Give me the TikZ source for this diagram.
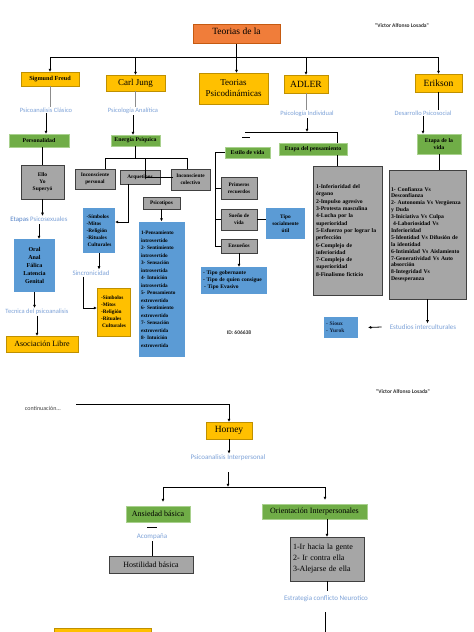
\documentclass[tikz,border=0pt]{standalone}
\usepackage{fontspec}
\setmainfont{Liberation Serif}
\newfontfamily\subfont{Carlito}
\usetikzlibrary{arrows.meta}
\definecolor{ylw}{HTML}{FFC000}
\definecolor{ylwb}{HTML}{BF9000}
\definecolor{org}{HTML}{F07D3A}
\definecolor{orgb}{HTML}{C55A11}
\definecolor{grn}{HTML}{70AD47}
\definecolor{grnb}{HTML}{A9D18E}
\definecolor{gry}{HTML}{A6A6A6}
\definecolor{gryb}{HTML}{404040}
\definecolor{blu}{HTML}{5B9BD5}
\definecolor{subc}{HTML}{7DA2D8}
\definecolor{subd}{HTML}{4F7FC6}
\definecolor{lng}{HTML}{8C8C8C}
\definecolor{navy}{HTML}{10203A}
\newcommand\myfs[2]{\fontsize{#1}{#2}\selectfont}
\begin{document}
\begin{tikzpicture}[x=1pt,y=-1pt,
  sz/.style 2 args={minimum width=#1pt, minimum height=#2pt},
  base/.style={inner sep=1pt, outer sep=0pt, align=center},
  ybox/.style={base, fill=ylw, draw=ylwb, line width=0.7pt},
  obox/.style={base, fill=org, draw=orgb, line width=0.7pt},
  gbox/.style={base, fill=grn, draw=grnb, line width=0.7pt, font=\bfseries\myfs{5.8}{7}},
  graybox/.style={base, fill=gry, draw=gryb, line width=1pt, font=\bfseries\myfs{5.3}{7}},
  bbox/.style={base, fill=blu, font=\bfseries\myfs{5.3}{7}},
  subt/.style={inner sep=1pt, text=subc, font=\subfont\myfs{6.5}{8}},
  authf/.style={inner sep=1pt, text=black!80, font=\subfont\bfseries\myfs{5.5}{7}},
  ln/.style={line width=0.8pt, black},
  lnlight/.style={line width=0.8pt, lng},
  arr/.style={ln, -{Latex[length=3.2pt,width=3pt]}}
]
\useasboundingbox (0,0) rectangle (474,632);
\fill[white] (0,0) rectangle (474,632);

% ---------- top ----------
\node[obox, sz={87}{19}, font=\myfs{9.5}{11}, text depth=6pt] (title) at (236.5,34) {Teorias de la};
\node[authf] (auth1) at (402,26) {"Victor Alfonso Losada"};

\node[ybox, sz={58}{14}, font=\bfseries\myfs{6.2}{8}] (freud) at (50,79) {Sigmund Freud};
\node[ybox, sz={59}{16}, font=\myfs{9}{11}] (jung) at (135.5,83) {Carl Jung};
\node[ybox, sz={69}{31}, font=\myfs{9}{11}] (tp) at (233.5,88.5) {Teorias\\Psicodinámicas};
\node[ybox, sz={44}{18}, font=\myfs{9.5}{11}] (adler) at (306,84) {ADLER};
\node[ybox, sz={47}{18}, font=\myfs{9.5}{11}] (erik) at (438.5,83) {Erikson};

\node[subt] (fsub) at (46,110) {Psicoanalisis Clásico};
\node[subt] (jsub) at (133,111) {Psicología Analítica};
\node[subt] (asub) at (307,114) {Psicología Individual};
\node[subt] (esub) at (423,113) {Desarrollo Psicosocial};

% ---------- green ----------
\node[gbox, sz={60}{13}] (pers) at (39,140.5) {Personalidad};
\node[gbox, sz={49}{11}] (ep) at (135.5,140.5) {Energía Psíquica};
\node[gbox, sz={45}{11}] (estilo) at (247.5,152.5) {Estilo de vida};
\node[gbox, sz={68}{12}] (etp) at (313,149) {Etapa del pensamiento};
\node[gbox, sz={44}{20}] (etv) at (439,144) {Etapa de la\\vida};

% ---------- Freud ----------
\node[graybox, sz={43}{34}, font=\bfseries\myfs{5.5}{7}] (ello) at (42.5,182) {Ello\\Yo\\Superyó};
\node[subt, font=\subfont\myfs{6.8}{8}] (etap) at (39,220) {\textcolor{subd}{Etapas} Psicosexuales};
\node[bbox, sz={41}{53}, font=\bfseries\myfs{6}{8.2}] (oral) at (34.5,265.5) {Oral\\Anal\\Fálica\\Latencia\\Genital};
\node[subt] (tec) at (37,312) {Tecnica del psicoanalisis};
\node[ybox, sz={72}{16}, font=\myfs{8}{9}] (asoc) at (42,344) {Asociación Libre};

% ---------- Jung ----------
\node[graybox, sz={40}{20}] (incp) at (95,179) {Inconsciente\\personal};
\node[graybox, sz={40}{14}] (arq) at (140,177) {Arquetipos};
\node[graybox, sz={39}{21}] (incc) at (190.5,179.5) {Inconsciente\\colectivo};
\node[graybox, sz={37}{12}] (psico) at (161.5,203) {Psicotipos};
\node[bbox, sz={32}{45}, align=left] (sym1) at (99,230.5) {-Símbolos\\-Mitos\\-Religión\\-Rituales\\\hspace*{1pt}Culturales};
\node[subt, font=\subfont\myfs{6.8}{8}] (sinc) at (91,273) {Sincronicidad};
\node[ybox, sz={33}{48}, font=\bfseries\myfs{5.3}{7}, align=left] (sym2) at (113.5,312) {-Símbolos\\-Mitos\\-Religión\\-Rituales\\\hspace*{1pt}Culturales};
\node[bbox, sz={46}{135}, text width=42pt, align=left, font=\bfseries\myfs{5.2}{7.5}] (big) at (162,289)
 {1-Pensamiento\\introvertido\\2- Sentimiento\\introvertido\\3- Sensación\\introvertida\\4- Intuición\\introvertida\\5- Pensamiento\\extrovertido\\6- Sentimiento\\extrovertido\\7- Sensación\\extrovertida\\8- Intuición\\extrovertida\\[2.5pt]};

% ---------- Adler ----------
\node[graybox, sz={36}{22}] (prim) at (239,188) {Primeros\\recuerdos};
\node[graybox, sz={36}{21}] (sueno) at (239,219.5) {Sueño de\\vida};
\node[graybox, sz={36}{14}] (ensu) at (239,246) {Ensueños};
\node[bbox, sz={39}{31}] (tsu) at (285.5,223.5) {Tipo\\socialmente\\útil};
\node[bbox, sz={66}{27}, text width=62pt, align=left, font=\bfseries\myfs{5.5}{7}] (tipos) at (234,280.5)
 {- Tipo gobernante\\- Tipo de quien consigue\\\hspace*{1pt}- Tipo Evasivo};
\node[graybox, sz={69}{129}, inner sep=3pt, text width=63pt, align=left, font=\bfseries\myfs{5.7}{7.3}] (abox) at (347.5,230.5)
 {1-Inferioridad del\\órgano\\2-Impulso agresivo\\3-Protesta masculina\\4-Lucha por la\\superioridad\\5-Esfuerzo por lograr la\\perfección\\6-Complejo de\\inferioridad\\7-Complejo de\\superioridad\\8-Finalismo ficticio\\[10pt]};
\node[inner sep=1pt, font=\subfont\bfseries\myfs{5.5}{7}, text=black!80] (id) at (239,333) {ID: 606638};

% ---------- Erikson ----------
\node[graybox, sz={77}{129}, inner sep=2pt, text width=73pt, align=left, font=\bfseries\myfs{5.7}{6.9}] (ebox) at (427.5,234.5)
 {1- Confianza Vs\\Desconfianza\\2- Autonomía Vs Vergüenza\\y Duda\\3-Iniciativa Vs Culpa\\\hspace*{2pt}4-Laboriosidad Vs\\Inferioridad\\5-Identidad Vs Difusión de\\la identidad\\6-Intimidad Vs Aislamiento\\7-Generatividad Vs Auto\\absorción\\8-Integridad Vs\\Desesperanza\\[8pt]};
\node[subt, font=\subfont\myfs{7}{8}] (estu) at (423,327) {Estudios interculturales};
\node[bbox, sz={34}{21}, text width=30pt, align=left, font=\bfseries\myfs{5.5}{7}, text=navy] (sioux) at (341,327.5) {- Sioux\\- Yurok};

% ---------- page 2 ----------
\node[authf] (auth2) at (403,392) {"Victor Alfonso Losada"};
\node[inner sep=1pt, text=black!75, font=\subfont\myfs{6}{7}] (cont) at (43,408) {continuación...};
\node[ybox, sz={46}{17}, font=\myfs{9.5}{11}] (horney) at (229,430.5) {Horney};
\node[subt, font=\subfont\myfs{7}{8}] (psi) at (228,458) {Psicoanalisis Interpersonal};
\node[gbox, sz={64}{16}, font=\myfs{8}{9}] (ans) at (158,514) {Ansiedad básica};
\node[gbox, sz={105}{15}, font=\myfs{8}{9}] (ori) at (314.5,511.5) {Orientación Interpersonales};
\node[subt, font=\subfont\myfs{7}{8}] (acom) at (152,537) {Acompaña};
\node[graybox, sz={84}{17}, font=\myfs{8}{9}] (host) at (151,564.5) {Hostilidad básica};
\node[graybox, sz={74}{44}, inner sep=3pt, text width=68pt, align=left, font=\myfs{8}{11}] (ir) at (327,559)
 {1-Ir hacia la gente\\2- Ir contra ella\\3-Alejarse de ella};
\node[subt, font=\subfont\myfs{7}{8}] (estr) at (326,599) {Estrategia conflicto Neurotico};
\node[ybox, sz={97}{20}] (bot) at (102.5,638) {};

% ---------- connectors: top ----------
\coordinate (bus) at (236.5,57);
\draw[ln] (title.south) -- (bus);
\draw[ln] (freud.north |- bus) -- (erik.north |- bus);
\foreach \n in {freud,jung,adler,erik} \draw[arr] (\n.north |- bus) -- (\n.north);
\draw[arr] (bus) -- (bus |- tp.north);

% Freud
\draw[lnlight] (freud.south) -- (freud.south |- fsub.north);
\draw[arr] (fsub.south) -- (fsub.south |- pers.north);
\draw[ln] (ello.north |- pers.south) -- (ello.north);
\draw[arr] (ello.south) -- (ello.south |- etap.north);
\draw[arr] (etap.south) -- (etap.south |- oral.north);
\draw[arr] (oral.south) -- (oral.south |- tec.north);
\draw[arr] (tec.south) -- (tec.south |- asoc.north);

% Jung
\draw[lnlight] (jung.south) -- (jung.south |- jsub.north);
\draw[arr] (jsub.south) -- (jsub.south |- ep.north);
\coordinate (jb) at (135.5,158);
\coordinate (jl) at (105,158);
\coordinate (jm) at (145,158);
\coordinate (jr) at (187,158);
\coordinate (jk) at (173,177);
\draw[ln] (ep.south) -- (jb);
\draw[ln] (jl) -- (jr);
\draw[ln] (jl) -- (jl |- incp.north);
\draw[ln] (jr) -- (jr |- incc.north);
\draw[ln] (jm) |- (jk);
\coordinate (ak) at (128,222);
\draw[arr] (ak |- arq.south) -- (ak) -- (ak -| sym1.east);
\draw[arr] (psico.south) -- (psico.south |- big.north);
\draw[arr] (sym1.south) -- (sym1.south |- sinc.north);
\coordinate (sk) at (83,308);
\draw[arr] (sk |- sinc.south) -- (sk) -- (sk -| sym2.west);

% Adler
\draw[lnlight] (adler.south) -- (adler.south |- asub.north);
\coordinate (ab) at (307,132);
\coordinate (al) at (245,132);
\coordinate (ar) at (337,132);
\draw[arr] (asub.south) -- (asub.south |- ab);
\draw[ln] (al) -- (ar);
\draw[ln] (ar) -- (ar |- etp.north);
\draw[ln] (ar |- etp.south) -- (ar |- abox.north);
\coordinate (d1) at (242,137);
\coordinate (d2) at (250,137);
\draw[ln] (d1) -- (d2);
\coordinate (vt) at (215,152.5);
\coordinate (vb) at (215,246);
\draw[ln] (estilo.west) -- (vt) -- (vb) -- (ensu.west);
\draw[ln] (vt |- prim.west) -- (prim.west);
\draw[ln] (vt |- sueno.west) -- (sueno.west);
\draw[ln] (sueno.east) -- (sueno.east -| tsu.west);
\draw[arr] (ensu.south) -- (ensu.south |- tipos.north);

% Erikson
\draw[ln] (erik.south) -- (erik.south |- esub.north);
\draw[arr] (esub.south) -- (esub.south |- etv.north);
\draw[ln] (etv.south) -- (etv.south |- ebox.north);
\draw[arr] (ebox.south) -- (ebox.south |- estu.north);
\draw[arr] ([xshift=-7pt]estu.west) -- ([xshift=10pt]sioux.east);

% ---------- connectors: page 2 ----------
\coordinate (c0) at (76,404);
\draw[arr] (c0) -| (horney.north);
\draw[arr] (horney.south) -- (horney.south |- psi.north);
\coordinate (pb) at (228,472);
\coordinate (hb) at (228,487);
\coordinate (hl) at (163,487);
\coordinate (hr) at (325,487);
\draw[arr] (pb) -- (hb);
\draw[ln] (hl) -- (hr);
\draw[arr, shorten >=4pt] (hl) -- (hl |- ans.north);
\draw[arr, shorten >=4pt] (hr) -- (hr |- ori.north);
\coordinate (e1) at (147,527);
\coordinate (e2) at (157,527);
\draw[ln] (e1) -- (e2);
\draw[ln] (acom.south) -- (acom.south |- host.north);
\draw[arr] (ori.south -| ir.north) -- (ir.north);
\draw[ln, shorten >=4pt] (ir.south) -- (ir.south |- estr.north);
\coordinate (et) at (325,612);
\coordinate (eb) at (325,634);
\draw[ln] (et) -- (eb);
\end{tikzpicture}
\end{document}
